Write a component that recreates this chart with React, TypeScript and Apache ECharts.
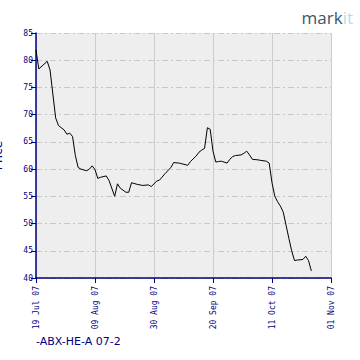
import React, { useEffect, useRef } from "react";
import * as echarts from "echarts";

const seriesName = "ABX-HE-A 07-2";
const startDate = "2007-07-19";
const endDate = "2007-11-01";
const tickIntervalDays = 21;
const yMin = 40;
const yMax = 85;
const yInterval = 5;

const dates = [
  "2007-07-19", "2007-07-20", "2007-07-23", "2007-07-24", "2007-07-25", "2007-07-26", "2007-07-27",
  "2007-07-29", "2007-07-30", "2007-07-31", "2007-08-01", "2007-08-02", "2007-08-03", "2007-08-04",
  "2007-08-06", "2007-08-07", "2007-08-08", "2007-08-09", "2007-08-10", "2007-08-11", "2007-08-13",
  "2007-08-14", "2007-08-16", "2007-08-17", "2007-08-18", "2007-08-20", "2007-08-21", "2007-08-22",
  "2007-08-24", "2007-08-26", "2007-08-28", "2007-08-29", "2007-08-31", "2007-09-01", "2007-09-03",
  "2007-09-05", "2007-09-06", "2007-09-08", "2007-09-11", "2007-09-12", "2007-09-14", "2007-09-15",
  "2007-09-16", "2007-09-17", "2007-09-18", "2007-09-19", "2007-09-20", "2007-09-21", "2007-09-22",
  "2007-09-23", "2007-09-25", "2007-09-26", "2007-09-27", "2007-09-28", "2007-09-30", "2007-10-01",
  "2007-10-02", "2007-10-03", "2007-10-04", "2007-10-06", "2007-10-07", "2007-10-09", "2007-10-10",
  "2007-10-11", "2007-10-12", "2007-10-13", "2007-10-14", "2007-10-15", "2007-10-16", "2007-10-17",
  "2007-10-18", "2007-10-19", "2007-10-20", "2007-10-22", "2007-10-23", "2007-10-24", "2007-10-25",
];

const prices = [
  81.9, 78.4, 79.8, 78.2, 73.8, 69.4, 68.0,
  67.2, 66.4, 66.6, 66.0, 62.5, 60.3, 60.0,
  59.7, 60.0, 60.6, 59.9, 58.3, 58.5, 58.75,
  57.9, 55.0, 57.3, 56.5, 55.75, 55.75, 57.5,
  57.2, 57.0, 57.1, 56.8, 57.8, 58.0, 59.2,
  60.3, 61.2, 61.1, 60.7, 61.4, 62.4, 63.1,
  63.5, 63.8, 67.6, 67.3, 63.3, 61.3, 61.4,
  61.45, 61.1, 61.8, 62.3, 62.5, 62.6, 62.9,
  63.3, 62.6, 61.8, 61.7, 61.6, 61.45, 61.1,
  57.5, 55.0, 54.0, 53.2, 52.1, 49.7, 47.3,
  45.0, 43.2, 43.3, 43.4, 44.0, 43.2, 41.3,
];

const monthNames = ["Jan", "Feb", "Mar", "Apr", "May", "Jun", "Jul", "Aug", "Sep", "Oct", "Nov", "Dec"];
const DAY = 86400000;
const t0 = Date.parse(startDate + "T00:00:00Z");
const toOffset = (d: string) => Math.round((Date.parse(d + "T00:00:00Z") - t0) / DAY);
const totalDays = toOffset(endDate);

const fmt = (off: number) => {
  const d = new Date(t0 + off * DAY);
  const dd = String(d.getUTCDate()).padStart(2, "0");
  const yy = String(d.getUTCFullYear() % 100).padStart(2, "0");
  return `${dd} ${monthNames[d.getUTCMonth()]} ${yy}`;
};

const navy = "#000080";
const labelFont = "'DejaVu Sans Mono', monospace";

export default function App() {
  const ref = useRef<HTMLDivElement>(null);
  useEffect(() => {
    if (!ref.current) return;
    const chart = echarts.init(ref.current, undefined, { renderer: "svg" });
    const data = dates.map((d, i) => [toOffset(d), prices[i]]);
    chart.setOption({
      animation: false,
      backgroundColor: "#ffffff",
      grid: {
        left: 36,
        right: 29,
        top: 33,
        bottom: 82,
        show: true,
        backgroundColor: "#eeeeee",
        borderWidth: 0,
        containLabel: false,
        outerBoundsMode: "none",
      },
      legend: {
        show: true,
        left: 30,
        top: 336,
        padding: 0,
        icon: "none",
        itemWidth: 1,
        itemHeight: 1,
        itemGap: 2,
        formatter: "-{name}",
        textStyle: { color: navy, fontSize: 11, fontFamily: "'DejaVu Sans', sans-serif" },
        data: [{ name: seriesName }],
      },
      xAxis: {
        type: "value",
        min: 0,
        max: totalDays,
        interval: tickIntervalDays,
        axisLine: { show: true, lineStyle: { color: navy, width: 1.5 } },
        axisTick: { show: true, length: 5, lineStyle: { color: navy } },
        axisLabel: {
          rotate: 90,
          color: navy,
          fontSize: 8,
          fontFamily: labelFont,
          margin: 8,
          formatter: (v: number) => fmt(v),
        },
        splitLine: { show: true, lineStyle: { color: "#cccccc", width: 1, type: "solid" } },
      },
      yAxis: {
        type: "value",
        min: yMin,
        max: yMax,
        interval: yInterval,
        name: "Price",
        nameLocation: "middle",
        nameRotate: 90,
        nameGap: 32,
        nameTextStyle: { color: navy, fontSize: 12, fontFamily: "'DejaVu Sans', sans-serif" },
        axisLine: { show: true, lineStyle: { color: navy, width: 1.5 } },
        axisTick: { show: true, length: 5, lineStyle: { color: navy } },
        axisLabel: { color: navy, fontSize: 8, fontFamily: labelFont, margin: 3 },
        splitLine: { show: true, lineStyle: { color: "#c8c8c8", width: 1, type: [6, 3, 2, 3] } },
      },
      graphic: [
        {
          type: "text",
          right: 7,
          top: 9,
          style: {
            text: "{a|mark}{b|it}",
            rich: {
              a: { fill: "#3b5668", fontSize: 17, fontFamily: "'Open Sans', sans-serif" },
              b: { fill: "#b5dde8", fontSize: 17, fontFamily: "'Open Sans', sans-serif" },
            },
          },
        },
      ],
      series: [
        {
          name: seriesName,
          type: "line",
          data,
          showSymbol: false,
          symbol: "none",
          lineStyle: { color: "#000000", width: 1 },
          itemStyle: { color: navy },
        },
      ],
    });
    return () => chart.dispose();
  }, []);
  return <div ref={ref} style={{ position: "absolute", left: 0, top: 0, width: 360, height: 360 }} />;
}
